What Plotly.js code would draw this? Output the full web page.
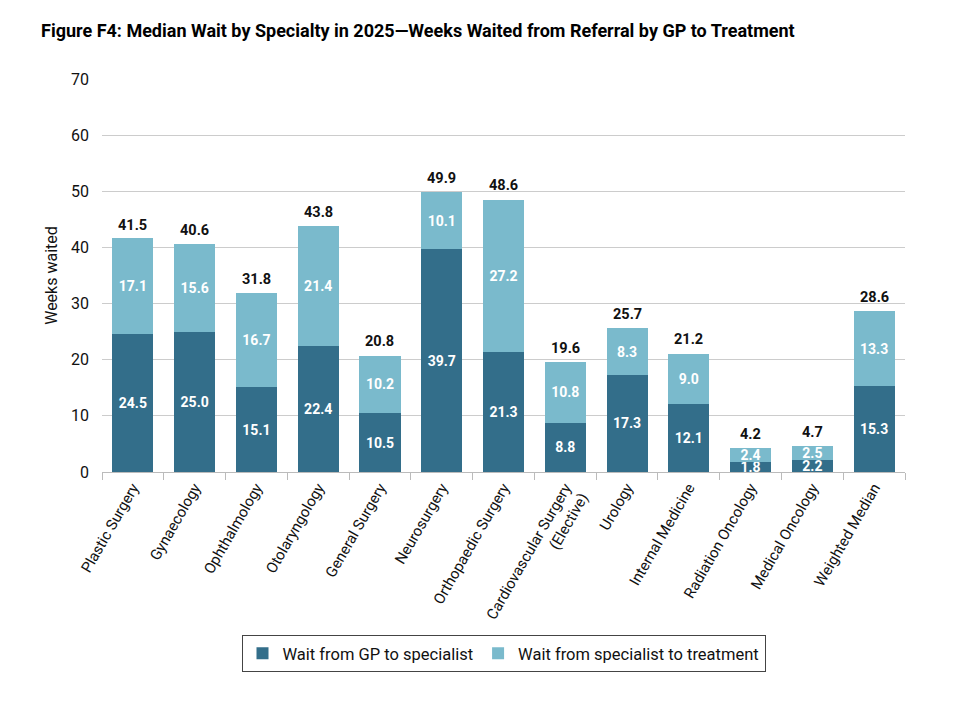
<!DOCTYPE html>
<html>
<head>
<meta charset="utf-8">
<script src="https://cdn.plot.ly/plotly-3.0.1.min.js"></script>
<style>
  html, body { margin: 0; padding: 0; background: #fff; }
  #chart { width: 978px; height: 705px; }
</style>
</head>
<body>
<div id="chart"></div>
<script>
// Median wait by specialty, 2025 (weeks)
const specialties = [
  "Plastic Surgery", "Gynaecology", "Ophthalmology", "Otolaryngology",
  "General Surgery", "Neurosurgery", "Orthopaedic Surgery",
  "Cardiovascular Surgery<br>(Elective)", "Urology", "Internal Medicine",
  "Radiation Oncology", "Medical Oncology", "Weighted Median"
];
const gpToSpecialist = [24.5, 25.0, 15.1, 22.4, 10.5, 39.7, 21.3, 8.8, 17.3, 12.1, 1.8, 2.2, 15.3];
const specialistToTreatment = [17.1, 15.6, 16.7, 21.4, 10.2, 10.1, 27.2, 10.8, 8.3, 9.0, 2.4, 2.5, 13.3];
const totalWait = [41.5, 40.6, 31.8, 43.8, 20.8, 49.9, 48.6, 19.6, 25.7, 21.2, 4.2, 4.7, 28.6];

const FONT = "Roboto, 'Noto Sans', sans-serif";
const DARK = "#336e8a";
const LIGHT = "#7abacc";

const segText = { family: FONT, size: 14, color: "#ffffff", weight: "bold" };

const traces = [
  {
    type: "bar", name: "Wait from GP to specialist",
    x: specialties, y: gpToSpecialist,
    marker: { color: DARK },
    text: gpToSpecialist.map(v => v.toFixed(1)),
    textposition: "inside", insidetextanchor: "middle",
    textfont: segText, constraintext: "none",
    hoverinfo: "y"
  },
  {
    type: "bar", name: "Wait from specialist to treatment",
    x: specialties, y: specialistToTreatment,
    marker: { color: LIGHT },
    text: specialistToTreatment.map(v => v.toFixed(1)),
    textposition: "inside", insidetextanchor: "middle",
    textfont: segText, constraintext: "none",
    hoverinfo: "y"
  }
];

// Total above each stack
const totalLabels = specialties.map((s, i) => ({
  x: s, y: totalWait[i], xref: "x", yref: "y",
  text: "<b>" + totalWait[i].toFixed(1) + "</b>",
  showarrow: false, yanchor: "bottom", yshift: 3,
  font: { family: FONT, size: 14.5, color: "#111" }
}));

const layout = {
  width: 978, height: 705,
  paper_bgcolor: "#fff", plot_bgcolor: "#fff",
  margin: { l: 102, r: 73, t: 79, b: 233 },
  barmode: "stack", bargap: 0.335,
  font: { family: FONT, size: 15, color: "#111" },
  uniformtext: { minsize: 14, mode: "show" },
  title: {
    text: "<b>Figure F4: Median Wait by Specialty in 2025\u2014Weeks Waited from Referral by GP to Treatment</b>",
    font: { family: FONT, size: 18, color: "#000" },
    x: 0, xref: "container", xanchor: "left", y: 0.957, yanchor: "middle",
    pad: { l: 41 }
  },
  xaxis: {
    type: "category", tickangle: -60, automargin: false,
    showline: true, linecolor: "#bbbbbb", linewidth: 1,
    ticks: "outside", tickson: "boundaries", ticklen: 7, tickcolor: "#bbbbbb",
    tickfont: { family: FONT, size: 15, color: "#111" },
    showgrid: false
  },
  yaxis: {
    range: [0, 70], dtick: 10, automargin: false,
    showgrid: true, gridcolor: "#cccccc", gridwidth: 1,
    zeroline: false, showline: false, ticks: "",
    ticklabelstandoff: 12,
    tickfont: { family: FONT, size: 16, color: "#111" },
    title: { text: "Weeks waited", font: { family: FONT, size: 16, color: "#111" }, standoff: 9 }
  },
  legend: {
    orientation: "h", x: 0.5, xanchor: "center", xref: "paper",
    y: -0.415, yanchor: "top",
    bordercolor: "#444", borderwidth: 1,
    font: { family: FONT, size: 16.5, color: "#111" },
    itemwidth: 30, traceorder: "normal"
  },
  annotations: totalLabels,
  showlegend: true
};

Plotly.newPlot("chart", traces, layout, { displayModeBar: false, staticPlot: true });
</script>
</body>
</html>
